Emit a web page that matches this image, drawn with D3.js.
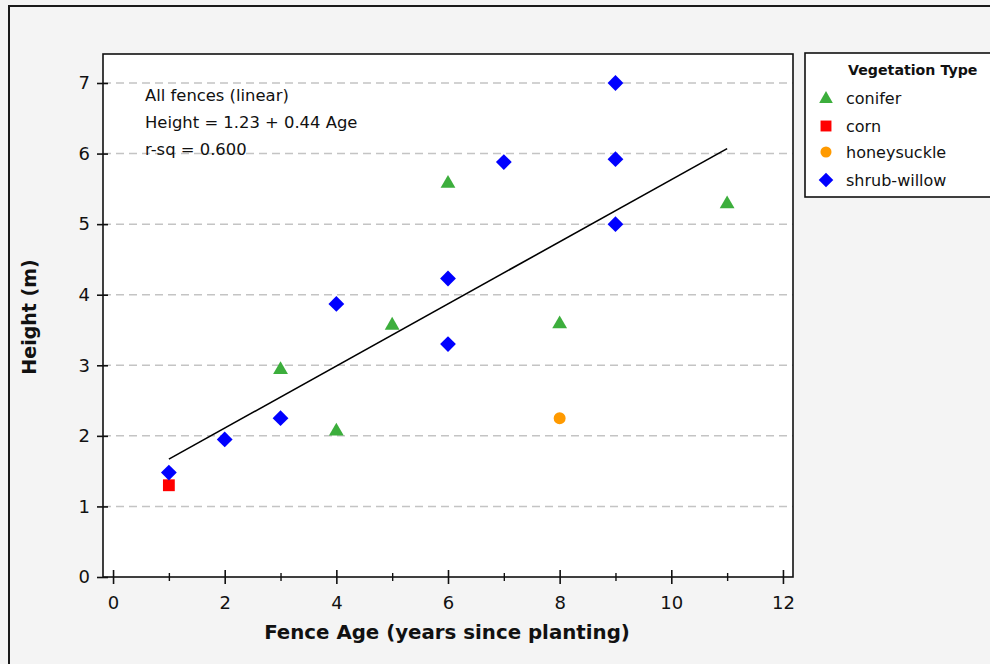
<!DOCTYPE html>
<html><head><meta charset="utf-8">
<script src="https://cdn.jsdelivr.net/npm/d3@7"></script>
<style>html,body{margin:0;padding:0;background:#f4f4f4;}svg{display:block;}</style>
</head><body>
<svg id="chart" width="990" height="664"></svg>
<script>
const categories = ["conifer", "corn", "honeysuckle", "shrub-willow"];
const coniferAge = [3, 4, 5, 6, 8, 11];
const coniferHeight = [2.95, 2.08, 3.58, 5.59, 3.6, 5.3];
const cornAge = [1];
const cornHeight = [1.3];
const honeysuckleAge = [8];
const honeysuckleHeight = [2.25];
const willowAge = [1, 2, 3, 4, 6, 6, 7, 9, 9, 9];
const willowHeight = [1.48, 1.95, 2.25, 3.87, 4.23, 3.3, 5.88, 7.0, 5.92, 5.0];
const xTicks = [0, 2, 4, 6, 8, 10, 12];
const xMinorTicks = [1, 3, 5, 7, 9, 11];
const yTicks = [0, 1, 2, 3, 4, 5, 6, 7];
const fitIntercept = 1.23, fitSlope = 0.44, fitFrom = 1, fitTo = 11;
const annotation = ["All fences (linear)", "Height = 1.23 + 0.44 Age", "r-sq = 0.600"];

const colors = {"conifer": "#3cae3c", "corn": "#ff0000", "honeysuckle": "#ff9a00", "shrub-willow": "#0000ff"};
const shapes = {"conifer": d3.symbolTriangle, "corn": d3.symbolSquare, "honeysuckle": d3.symbolCircle, "shrub-willow": d3.symbolSquare};
const rotations = {"conifer": 0, "corn": 0, "honeysuckle": 0, "shrub-willow": 45};
const sizes = {"conifer": 95, "corn": 140, "honeysuckle": 113, "shrub-willow": 125};

const series = [
  {name: "conifer", x: coniferAge, y: coniferHeight},
  {name: "corn", x: cornAge, y: cornHeight},
  {name: "honeysuckle", x: honeysuckleAge, y: honeysuckleHeight},
  {name: "shrub-willow", x: willowAge, y: willowHeight}
];

const svg = d3.select("#chart");
const FONT = "DejaVu Sans, Verdana, sans-serif";

// outer frame
svg.append("rect").attr("x", 9).attr("y", 6).attr("width", 1000).attr("height", 700)
  .attr("fill", "#f4f4f4").attr("stroke", "#1a1a1a").attr("stroke-width", 2);

const L = 103, R = 793, T = 54, B = 577;
const x = d3.scaleLinear().domain([-0.18, 12.18]).range([L, R]);
const y = d3.scaleLinear().domain([0, 7]).range([B, 83]);

svg.append("rect").attr("x", L).attr("y", T).attr("width", R - L).attr("height", B - T)
  .attr("fill", "#ffffff");

// gridlines
svg.append("g").selectAll("line").data(yTicks.filter(d => d > 0)).join("line")
  .attr("x1", L).attr("x2", R).attr("y1", d => y(d)).attr("y2", d => y(d))
  .attr("stroke", "#c4c4c4").attr("stroke-width", 1.5).attr("stroke-dasharray", "8,5");

svg.append("rect").attr("x", L).attr("y", T).attr("width", R - L).attr("height", B - T)
  .attr("fill", "none").attr("stroke", "#111").attr("stroke-width", 1.6);

// x axis
const xAxis = d3.axisBottom(x).tickValues(xTicks).tickSize(7).tickSizeOuter(0).tickPadding(12).tickFormat(d3.format("d"));
const gx = svg.append("g").attr("transform", `translate(0,${B})`).call(xAxis);
gx.select(".domain").remove();
gx.selectAll(".tick line").attr("y1", -7).attr("stroke", "#111").attr("stroke-width", 1.6);
gx.selectAll(".tick text").attr("font-family", FONT).attr("font-size", 18).attr("fill", "#111");
const gxm = svg.append("g").attr("transform", `translate(0,${B})`)
  .call(d3.axisBottom(x).tickValues(xMinorTicks).tickSize(4).tickFormat(""));
gxm.select(".domain").remove();
gxm.selectAll(".tick line").attr("y1", -4).attr("stroke", "#111").attr("stroke-width", 1.4);

// y axis
const yAxis = d3.axisLeft(y).tickValues(yTicks).tickSize(6).tickSizeOuter(0).tickPadding(7).tickFormat(d3.format("d"));
const gy = svg.append("g").attr("transform", `translate(${L},0)`).call(yAxis);
gy.select(".domain").remove();
gy.selectAll(".tick line").attr("x1", 5).attr("stroke", "#111").attr("stroke-width", 1.6);
gy.selectAll(".tick text").attr("font-family", FONT).attr("font-size", 18).attr("fill", "#111");

// axis titles
svg.append("text").attr("x", 447).attr("y", 639).attr("text-anchor", "middle")
  .attr("font-family", FONT).attr("font-weight", "bold").attr("font-size", 19.8).attr("fill", "#111")
  .text("Fence Age (years since planting)");
svg.append("text").attr("transform", "translate(36,317) rotate(-90)").attr("text-anchor", "middle")
  .attr("font-family", FONT).attr("font-weight", "bold").attr("font-size", 19).attr("fill", "#111")
  .text("Height (m)");

// fit line
svg.append("line")
  .attr("x1", x(fitFrom)).attr("y1", y(fitIntercept + fitSlope * fitFrom))
  .attr("x2", x(fitTo)).attr("y2", y(fitIntercept + fitSlope * fitTo))
  .attr("stroke", "#000").attr("stroke-width", 1.6);

// annotation
svg.append("g").selectAll("text").data(annotation).join("text")
  .attr("x", 145).attr("y", (d, i) => 101 + i * 27)
  .attr("font-family", FONT).attr("font-size", 16.4).attr("fill", "#111").text(d => d);

// points
series.forEach(s => {
  svg.append("g").selectAll("path").data(s.x.map((v, i) => [v, s.y[i]])).join("path")
    .attr("transform", d => `translate(${x(d[0])},${y(d[1]) + (s.name === "conifer" ? 1 : 0)}) rotate(${rotations[s.name]})`)
    .attr("d", d3.symbol().type(shapes[s.name]).size(sizes[s.name]))
    .attr("fill", colors[s.name]);
});

// legend
const lg = svg.append("g");
lg.append("rect").attr("x", 805).attr("y", 53).attr("width", 200).attr("height", 144)
  .attr("fill", "#ffffff").attr("stroke", "#111").attr("stroke-width", 1.6);
lg.append("text").attr("x", 848).attr("y", 75).attr("font-family", FONT).attr("font-weight", "bold")
  .attr("font-size", 14.2).attr("fill", "#111").text("Vegetation Type");
const ly = [98, 126, 152, 180];
categories.forEach((c, i) => {
  lg.append("path").attr("transform", `translate(826,${ly[i] + (c === "conifer" ? 1 : 0)}) rotate(${rotations[c]})`)
    .attr("d", d3.symbol().type(shapes[c]).size(sizes[c] * 0.85)).attr("fill", colors[c]);
  lg.append("text").attr("x", 846).attr("y", ly[i] + 6).attr("font-family", FONT)
    .attr("font-size", 16).attr("fill", "#111").text(c);
});
</script>
</body></html>
